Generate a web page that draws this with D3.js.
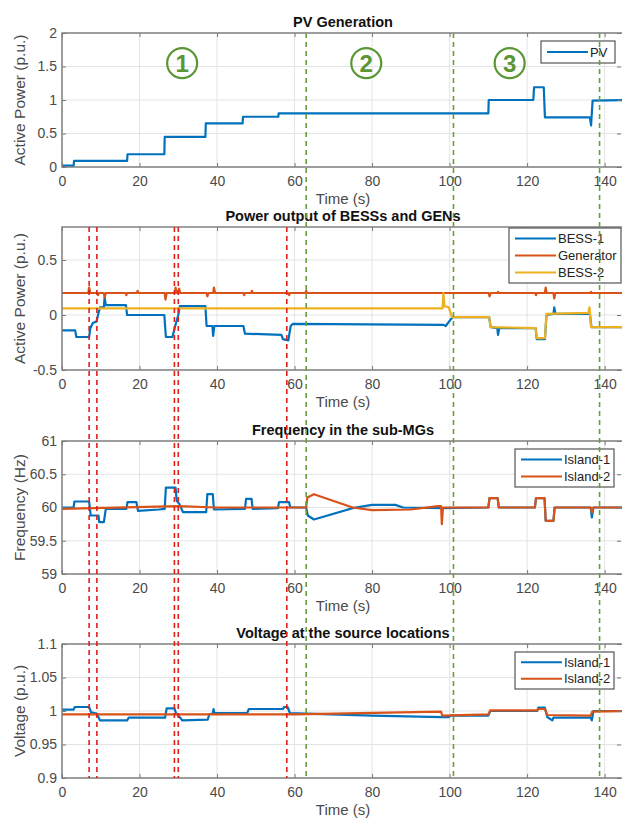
<!DOCTYPE html>
<html>
<head>
<meta charset="utf-8">
<script src="https://cdn.jsdelivr.net/npm/d3@7"></script>
<style>
  body { margin: 0; background: #fff; }
  text { font-family: "Liberation Sans", Arial, sans-serif; }
</style>
</head>
<body>
<script>
// time axis
var timeTicks = [0, 20, 40, 60, 80, 100, 120, 140];

// PV generation (t, p.u.)
var pv = [[0,0.02],[3,0.02],[3.1,0.09],[16.8,0.09],[16.9,0.19],[26.4,0.19],[26.5,0.45],[37,0.45],[37.1,0.65],
  [46.6,0.65],[46.7,0.75],[55.8,0.75],[55.9,0.80],[110,0.80],[110.1,1.0],[121.6,1.0],[121.8,1.19],[124.3,1.19],
  [124.6,0.74],[136.2,0.74],[136.5,0.62],[136.9,0.99],[145,1.0]];

// BESS / generator outputs
var bess1 = [[0,-0.14],[3.4,-0.14],[3.7,-0.2],[7,-0.2],[7.3,-0.12],[8,-0.07],[8.9,-0.06],[9.3,0.0],[9.8,0.07],
  [10.8,0.07],[11,0.16],[11.3,0.09],[16.5,0.09],[16.8,0.0],[26.4,0.0],[26.8,-0.2],[28.5,-0.2],[29.2,-0.1],[30,0.0],
  [30.4,0.08],[37,0.08],[37.3,-0.1],[38.8,-0.1],[39,-0.19],[39.3,-0.1],[46.8,-0.1],[47.2,-0.17],[56.6,-0.18],
  [57,-0.22],[58.4,-0.23],[59,-0.1],[59.6,-0.08],[98.5,-0.09],[99,-0.1],[100.3,-0.04],[100.8,-0.02],[110.2,-0.02],
  [110.6,-0.11],[112.3,-0.12],[112.5,-0.18],[112.8,-0.12],[122.2,-0.12],[122.5,-0.22],[124.6,-0.22],[125,0.0],
  [126.8,0.01],[127,0.07],[127.3,0.01],[136.2,0.01],[136.6,-0.11],[145,-0.11]];
var generator = [[0,0.2],[6.8,0.2],[7,0.25],[7.3,0.2],[9.1,0.2],[9.3,0.18],[9.5,0.2],[10.8,0.2],[11,0.16],[11.3,0.2],
  [16.4,0.2],[16.6,0.18],[16.8,0.2],[19.3,0.2],[19.5,0.22],[19.7,0.2],[26.5,0.2],[26.7,0.14],[27,0.2],[29.1,0.2],
  [29.3,0.25],[29.6,0.2],[30,0.2],[30.2,0.24],[30.5,0.2],[37.3,0.2],[37.5,0.17],[37.8,0.2],[39,0.2],[39.2,0.25],
  [39.5,0.2],[46.8,0.2],[47,0.18],[47.2,0.2],[48.8,0.2],[49,0.22],[49.2,0.2],[58.4,0.2],[58.6,0.18],[58.8,0.2],
  [62.8,0.2],[63,0.22],[63.2,0.2],[110.1,0.2],[110.3,0.17],[110.6,0.2],[112.3,0.2],[112.5,0.21],[112.7,0.2],
  [122.1,0.2],[122.3,0.18],[122.5,0.2],[124.6,0.2],[124.8,0.25],[125,0.2],[126.8,0.2],[127,0.15],[127.3,0.2],
  [136.3,0.2],[136.5,0.21],[136.7,0.2],[145,0.2]];
var bess2 = [[0,0.06],[98.2,0.06],[98.4,0.2],[98.7,0.08],[99.8,0.07],[100.6,-0.02],[110.2,-0.02],[110.6,-0.11],
  [122.2,-0.12],[122.5,-0.21],[124.6,-0.21],[125,0.01],[135.8,0.02],[136.1,0.07],[136.5,-0.11],[145,-0.11]];

// frequency (Hz)
var freq1 = [[0,60],[3,60],[3.2,60.09],[7,60.09],[7.4,59.88],[9.4,59.88],[9.6,59.78],[10.8,59.78],[11.3,59.98],
  [16.6,59.98],[16.9,60.08],[19.2,60.08],[19.6,59.95],[25,59.97],[26.5,59.98],[26.8,60.3],[29.3,60.3],[29.6,60.1],
  [30.3,60.05],[31.2,59.93],[37.2,59.93],[37.5,60.2],[38.9,60.2],[39.2,59.97],[47.2,59.98],[47.5,60.13],
  [48.9,60.13],[49.2,59.98],[55.7,59.99],[56,60.08],[58.6,60.08],[58.9,60.0],[63,60.0],[63.4,59.88],[65,59.82],
  [75,59.99],[80,60.04],[86,60.04],[88,60.0],[98,59.99],[110,60.0],[110.3,60.14],[112.4,60.14],[112.7,60.0],
  [122,60.0],[122.3,60.14],[124.5,60.14],[124.8,59.8],[126.8,59.8],[127.1,60.0],[136.4,60.0],[136.7,59.85],
  [137.1,60.0],[145,60]];
var freq2 = [[0,59.98],[30,60.02],[40,60.0],[63,60.0],[63.3,60.15],[65,60.2],[75,60.0],[80,59.96],[90,59.97],
  [97,60.02],[97.8,60.02],[98,59.75],[98.3,60.0],[110,60.0],[110.3,60.14],[112.4,60.14],[112.7,60.0],[122,60.0],
  [122.3,60.14],[124.5,60.14],[124.8,59.8],[126.8,59.8],[127.1,60.0],[136.4,60.0],[136.7,59.93],[137.1,60.0],[145,60]];

// voltage (p.u.)
var volt1 = [[0,1.002],[3,1.002],[3.3,1.006],[7,1.006],[7.5,0.998],[9,0.996],[9.8,0.986],[16.8,0.986],[17.2,0.99],
  [26.6,0.99],[27,1.004],[29,1.004],[29.4,0.997],[30.5,0.99],[31,0.986],[37.6,0.987],[38,0.995],[38.9,0.996],
  [39.1,1.003],[39.3,0.997],[47.8,0.997],[48.2,1.003],[57,1.003],[57.3,1.006],[58.2,1.006],[58.8,0.997],
  [63,0.996],[80,0.993],[98,0.991],[99.8,0.991],[100.3,0.993],[110,0.993],[110.5,1.0],[122.6,1.0],[122.9,1.005],
  [124.6,1.005],[125.2,0.991],[126.5,0.986],[126.8,0.99],[136.4,0.99],[136.7,0.986],[137.1,1.0],[145,1.0]];
var volt2 = [[0,0.995],[60,0.995],[97.8,0.999],[98.1,0.993],[110,0.995],[110.5,1.001],[122.6,1.001],[122.9,1.003],
  [124.6,1.003],[125.2,0.994],[136.4,0.993],[136.8,0.999],[145,1.0]];

// y tick labels
var pvTicks = [0, 0.5, 1, 1.5, 2];
var powerTicks = [-0.5, 0, 0.5];
var freqTicks = [59, 59.5, 60, 60.5, 61];
var voltTicks = [0.9, 0.95, 1, 1.05, 1.1];

// event markers and stages
var redEvents = [7, 9, 29, 30, 58];
var greenEvents = [63, 101, 138.7];
var stageNames = ["1", "2", "3"];
var stageTimes = [31, 78.5, 115.5];
var stageLevel = 1.55;

var BLUE = "#0072BD", ORANGE = "#D95319", YELLOW = "#EDB120";

var svg = d3.select("body").append("svg").attr("width", 622).attr("height", 822);

var x = d3.scaleLinear().domain([0, 145]).range([62, 624]);

var panels = [
  {top: 33, bottom: 167, domain: [0, 2], ticks: pvTicks, title: "PV Generation", ylabel: "Active Power (p.u.)",
   series: [{name: "PV", data: pv, color: BLUE}],
   legend: {x: 541, y: 41, w: 74, h: 22}},
  {top: 227, bottom: 370, domain: [-0.5, 0.8], ticks: powerTicks, title: "Power output of BESSs and GENs",
   ylabel: "Active Power (p.u.)",
   series: [{name: "BESS-1", data: bess1, color: BLUE}, {name: "Generator", data: generator, color: ORANGE},
            {name: "BESS-2", data: bess2, color: YELLOW}],
   legend: {x: 509, y: 228, w: 112, h: 55}},
  {top: 441, bottom: 574, domain: [59, 61], ticks: freqTicks, title: "Frequency in the sub-MGs", ylabel: "Frequency (Hz)",
   series: [{name: "Island-1", data: freq1, color: BLUE}, {name: "Island-2", data: freq2, color: ORANGE}],
   legend: {x: 515, y: 449, w: 99, h: 38}},
  {top: 644, bottom: 778, domain: [0.9, 1.1], ticks: voltTicks, title: "Voltage at the source locations",
   ylabel: "Voltage (p.u.)",
   series: [{name: "Island-1", data: volt1, color: BLUE}, {name: "Island-2", data: volt2, color: ORANGE}],
   legend: {x: 515, y: 652, w: 99, h: 37}}
];

var cx = (62 + 624) / 2;

panels.forEach(function(p, i) {
  var y = d3.scaleLinear().domain(p.domain).range([p.bottom, p.top]);
  p.y = y;
  var g = svg.append("g");

  // grid
  g.append("g").selectAll("line").data(timeTicks).enter().append("line")
    .attr("x1", function(d) { return x(d); }).attr("x2", function(d) { return x(d); })
    .attr("y1", p.top).attr("y2", p.bottom)
    .attr("stroke", "#e3e3e3").attr("stroke-width", 1);
  g.append("g").selectAll("line").data(p.ticks).enter().append("line")
    .attr("x1", 62).attr("x2", 624)
    .attr("y1", function(d) { return y(d); }).attr("y2", function(d) { return y(d); })
    .attr("stroke", "#e3e3e3").attr("stroke-width", 1);

  // data
  var clipId = "clip" + i;
  svg.append("clipPath").attr("id", clipId).append("rect")
    .attr("x", 62).attr("y", p.top).attr("width", 562).attr("height", p.bottom - p.top);
  var line = d3.line().x(function(d) { return x(d[0]); }).y(function(d) { return y(d[1]); });
  g.append("g").attr("clip-path", "url(#" + clipId + ")")
    .selectAll("path").data(p.series).enter().append("path")
    .attr("d", function(s) { return line(s.data); })
    .attr("fill", "none").attr("stroke", function(s) { return s.color; })
    .attr("stroke-width", 2.2).attr("stroke-linejoin", "round");

  // axes
  var xb = g.append("g").attr("transform", "translate(0," + p.bottom + ")")
    .call(d3.axisBottom(x).tickValues(timeTicks).tickSizeInner(-4).tickSizeOuter(0).tickPadding(9));
  var xt = g.append("g").attr("transform", "translate(0," + p.top + ")")
    .call(d3.axisTop(x).tickValues(timeTicks).tickSizeInner(-4).tickSizeOuter(0).tickFormat(""));
  var yl = g.append("g").attr("transform", "translate(62,0)")
    .call(d3.axisLeft(y).tickValues(p.ticks).tickSizeInner(-4).tickSizeOuter(0).tickPadding(5)
      .tickFormat(function(d) { return String(d); }));
  var yr = g.append("g").attr("transform", "translate(621,0)")
    .call(d3.axisRight(y).tickValues(p.ticks).tickSizeInner(-4).tickSizeOuter(0).tickFormat(""));
  [xb, xt, yl, yr].forEach(function(a) {
    a.select(".domain").remove();
    a.selectAll("line").attr("stroke", "#7a7a7a");
    a.selectAll("text").attr("fill", "#4a4a4a").style("font-size", "14px");
  });

  g.append("rect").attr("x", 62).attr("y", p.top).attr("width", 562).attr("height", p.bottom - p.top)
    .attr("fill", "none").attr("stroke", "#7a7a7a").attr("stroke-width", 1.4);

  // labels
  g.append("text").attr("x", cx).attr("y", p.top - 6).attr("text-anchor", "middle")
    .style("font-size", "14.5px").style("font-weight", "bold").attr("fill", "#111").text(p.title);
  g.append("text").attr("x", cx).attr("y", p.bottom + 37).attr("text-anchor", "middle")
    .style("font-size", "15px").attr("fill", "#4a4a4a").text("Time (s)");
  g.append("text").attr("transform", "translate(25," + ((p.top + p.bottom) / 2) + ") rotate(-90)")
    .attr("text-anchor", "middle").style("font-size", "15.5px").attr("fill", "#4a4a4a").text(p.ylabel);

  // legend
  var L = p.legend;
  var lg = g.append("g");
  lg.append("rect").attr("x", L.x).attr("y", L.y).attr("width", L.w).attr("height", L.h)
    .attr("fill", "#fff").attr("stroke", "#555").attr("stroke-width", 1.2);
  var rowH = (L.h - 4) / p.series.length;
  p.series.forEach(function(s, k) {
    var ry = L.y + 2 + rowH * (k + 0.5);
    lg.append("line").attr("x1", L.x + 6).attr("x2", L.x + 47).attr("y1", ry).attr("y2", ry)
      .attr("stroke", s.color).attr("stroke-width", 2);
    lg.append("text").attr("x", L.x + 49).attr("y", ry).attr("dy", "0.35em")
      .style("font-size", "13px").attr("fill", "#222").text(s.name);
  });
});

// stage markers in PV panel
var p0 = panels[0];
var stages = svg.append("g").selectAll("g").data(stageNames).enter().append("g")
  .attr("transform", function(d, k) { return "translate(" + x(stageTimes[k]) + "," + p0.y(stageLevel) + ")"; });
stages.append("circle").attr("r", 15).attr("fill", "none").attr("stroke", "#5a9634").attr("stroke-width", 2.2);
stages.append("text").attr("text-anchor", "middle").attr("dy", "0.36em")
  .style("font-size", "24px").style("font-weight", "bold").attr("fill", "#5a9634").text(function(d) { return d; });

// event lines over everything
svg.append("g").selectAll("line").data(redEvents).enter().append("line")
  .attr("x1", function(d) { return x(d); }).attr("x2", function(d) { return x(d); })
  .attr("y1", panels[1].top).attr("y2", panels[3].bottom)
  .attr("stroke", "#e0201b").attr("stroke-width", 1.6).attr("stroke-dasharray", "5,4");
svg.append("g").selectAll("line").data(greenEvents).enter().append("line")
  .attr("x1", function(d) { return x(d); }).attr("x2", function(d) { return x(d); })
  .attr("y1", panels[0].top).attr("y2", panels[3].bottom)
  .attr("stroke", "#64a03a").attr("stroke-width", 1.6).attr("stroke-dasharray", "5,4");
</script>
</body>
</html>
